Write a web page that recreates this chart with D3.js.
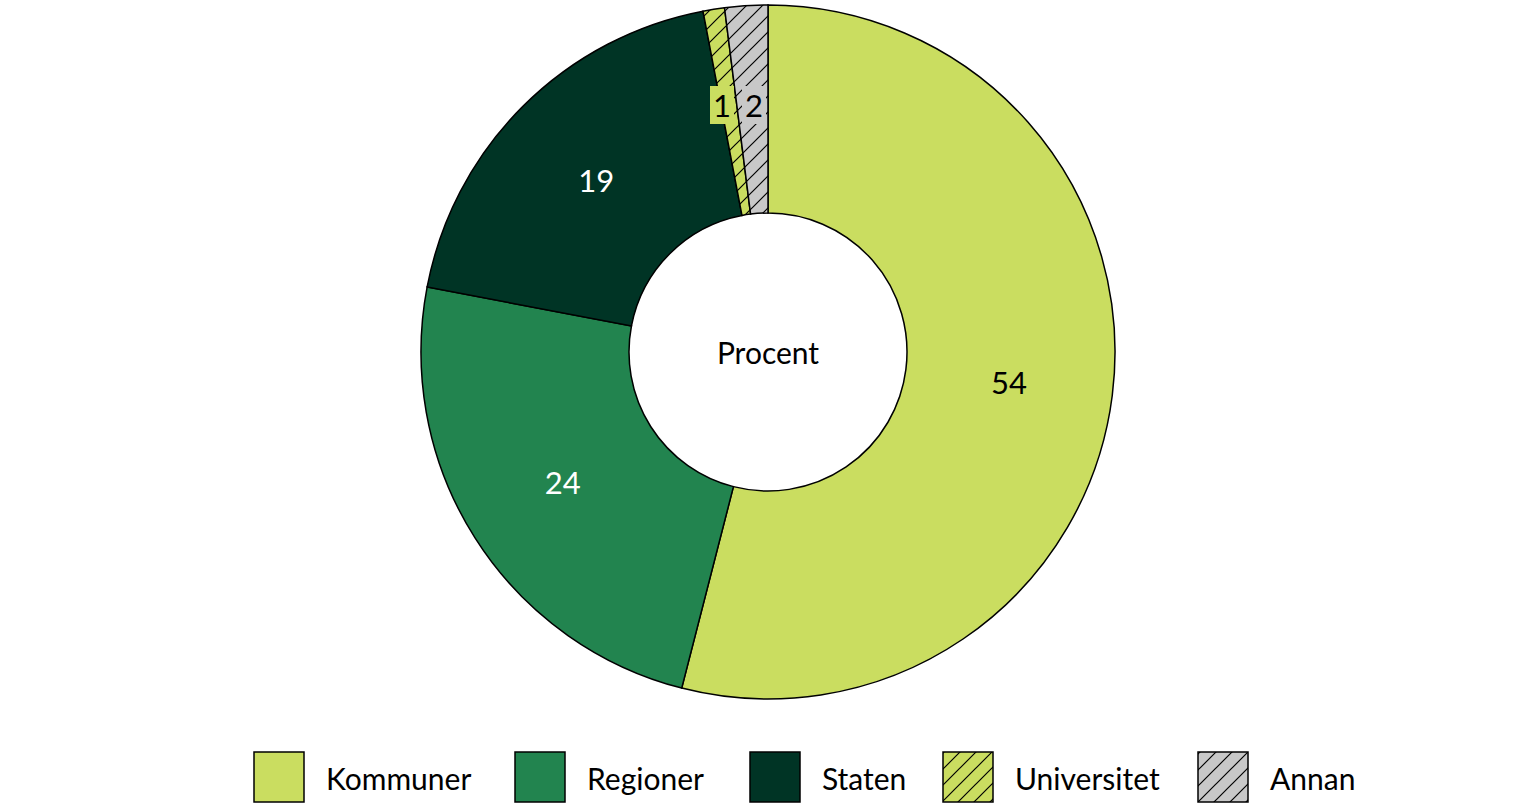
<!DOCTYPE html>
<html><head><meta charset="utf-8">
<script src="https://cdn.jsdelivr.net/npm/d3@7"></script>
<style>body{margin:0;background:#fff}svg{display:block}text{font-family:Lato,"Open Sans",sans-serif}</style>
</head><body>
<svg id="c" width="1536" height="809"></svg>
<script>
const categories=["Kommuner","Regioner","Staten","Universitet","Annan"];
const values=[54,24,19,1,2];
const colors=["#cadd60","#22844f","#003425","#cadd60","#c8c8c8"];
const hatched=[false,false,false,true,true];
const labelColors=["#000","#fff","#fff","#000","#000"];

const svg=d3.select("#c");
const defs=svg.append("defs");
[3,4].forEach(i=>{
  const p=defs.append("pattern").attr("id","h"+i).attr("patternUnits","userSpaceOnUse")
    .attr("width",16).attr("height",16);
  p.append("rect").attr("width",16).attr("height",16).attr("fill",colors[i]);
  p.append("path").attr("d","M-4,4 L4,-4 M0,16 L16,0 M12,20 L20,12").attr("stroke","#000").attr("stroke-width",1.2);
});
const fill=i=>hatched[i]?"url(#h"+i+")":colors[i];
const cx=768,cy=352,R=347,r=139;
const pie=d3.pie().sort(null).value(d=>d)(values);
const arc=d3.arc().innerRadius(r).outerRadius(R);
const g=svg.append("g").attr("transform",`translate(${cx},${cy})`);
g.selectAll("path").data(pie).join("path").attr("d",arc).attr("fill",(d,i)=>fill(i))
  .attr("stroke","#000").attr("stroke-width",1.5);
const lab=d3.arc().innerRadius(r).outerRadius(R);
pie.forEach((d,i)=>{
  let [x,y]=lab.centroid(d);
  if(values[i]<5){ y=105-cy; x = i===3? -46 : -14; }
  if(values[i]<5){
    g.append("rect").attr("x",x-12).attr("y",y-19).attr("width",24).attr("height",38).attr("fill",colors[i]);
  }
  g.append("text").attr("x",x).attr("y",y).attr("text-anchor","middle").attr("dominant-baseline","central")
    .attr("font-size",31).attr("fill",labelColors[i]).text(values[i]);
});
g.append("text").attr("text-anchor","middle").attr("dominant-baseline","central").attr("font-size",30).text("Procent");

const lx=[254,515,750,943,1198];
const lg=svg.append("g");
categories.forEach((c,i)=>{
  lg.append("rect").attr("x",lx[i]).attr("y",752).attr("width",50).attr("height",50).attr("fill",fill(i))
    .attr("stroke","#000").attr("stroke-width",1.5);
  lg.append("text").attr("x",lx[i]+72).attr("y",778).attr("dominant-baseline","central").attr("font-size",30).text(c);
});
</script></body></html>
